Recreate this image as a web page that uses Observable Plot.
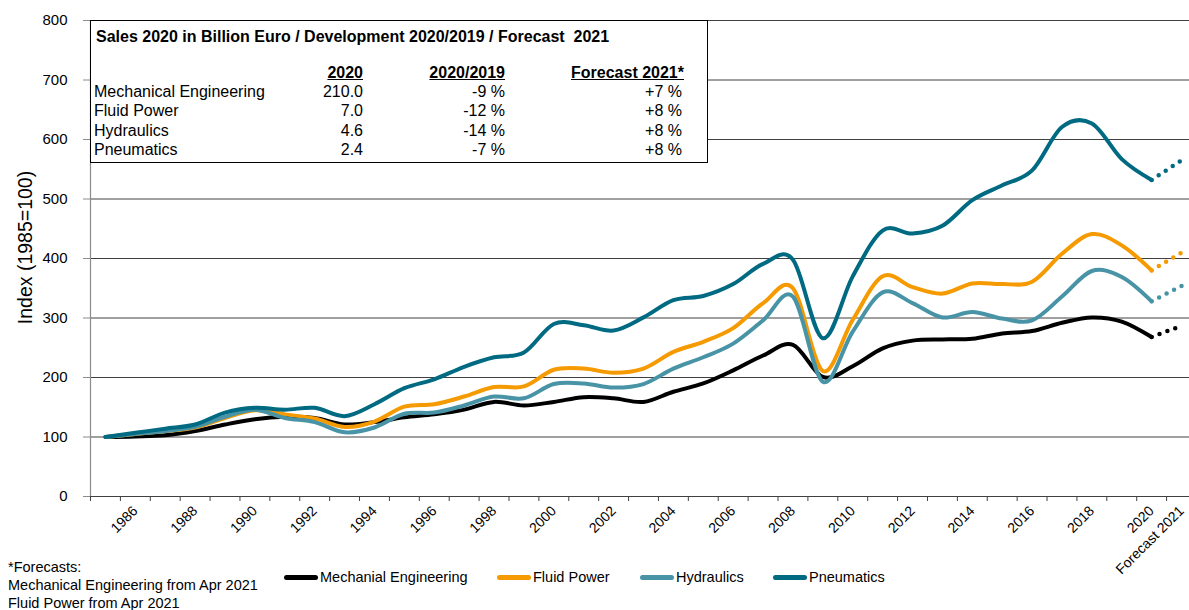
<!DOCTYPE html>
<html>
<head>
<meta charset="utf-8">
<script src="https://cdn.jsdelivr.net/npm/d3@7"></script>
<script src="https://cdn.jsdelivr.net/npm/@observablehq/plot@0.6"></script>
<style>
  body { margin: 0; background: #fff; font-family: "Liberation Sans", Arial, sans-serif; color: #000; }
  #wrap { position: relative; width: 1189px; height: 610px; overflow: hidden; }
  #box { position: absolute; left: 90px; top: 20px; width: 618px; height: 143px; background: #fff; border: 1px solid #000; box-sizing: border-box; }
  #box div { position: absolute; white-space: nowrap; line-height: 18px; }
  .title { font-weight: bold; font-size: 16px; }
  .hdr { font-weight: bold; font-size: 16px; text-decoration: underline; }
  .cell { font-size: 16px; }
  .leg { position: absolute; top: 568px; font-size: 14.5px; line-height: 18px; white-space: nowrap; }
  .sw { position: absolute; top: 7px; height: 5px; border-radius: 3px; }
  #foot { position: absolute; left: 8px; top: 558px; font-size: 14.5px; line-height: 18px; }
</style>
</head>
<body>
<div id="wrap"></div>
<script>
// ---------------- data ----------------
const years = [1985,1986,1987,1988,1989,1990,1991,1992,1993,1994,1995,1996,1997,1998,1999,2000,2001,2002,2003,2004,2005,2006,2007,2008,2009,2010,2011,2012,2013,2014,2015,2016,2017,2018,2019,2020];
const mechanical = [100,101,103,110,121,130,134,132,121,125,133,138,146,159,153,159,167,165,159,176,190,212,237,255,201,219,249,262,264,265,274,278,292,301,294,268];
const fluidPower = [100,105,110,116,132,145,138,131,117,126,151,155,168,184,185,213,215,208,215,243,260,283,325,350,211,297,370,352,341,358,357,361,408,441,422,380];
const hydraulics = [100,105,110,117,134,146,132,125,108,116,139,141,153,168,165,189,190,183,189,215,234,257,296,336,193,277,343,325,301,310,299,296,336,379,369,328];
const pneumatics = [100,107,114,121,141,149,146,149,135,155,182,197,218,234,242,290,288,279,301,330,337,357,391,398,266,370,447,442,455,498,523,548,621,627,567,532];
const forecastYear = 2021;
const forecast2021 = { mech: 287, fluid: 410, hyd: 354, pneu: 565 };

const seriesNames = ["Mechanial Engineering", "Fluid Power", "Hydraulics", "Pneumatics"];
const seriesColors = ["#000000", "#f59a00", "#4894a6", "#006a82"];

const yTicks = [0,100,200,300,400,500,600,700,800];
const xLabelYears = [1986,1988,1990,1992,1994,1996,1998,2000,2002,2004,2006,2008,2010,2012,2014,2016,2018,2020,2021];
const xTickLabel = { 2021: "Forecast 2021" };

const tableTitle = "Sales 2020 in Billion Euro / Development 2020/2019 / Forecast\u00a0 2021";
const tableHeaders = ["2020", "2020/2019", "Forecast 2021*"];
const tableRows = ["Mechanical Engineering", "Fluid Power", "Hydraulics", "Pneumatics"];
const sales2020 = ["210.0", "7.0", "4.6", "2.4"];
const change2019 = ["-9 %", "-12 %", "-14 %", "-7 %"];
const forecastPct = ["+7 %", "+8 %", "+8 %", "+8 %"];

const footLines = ["*Forecasts:", "Mechanical Engineering from Apr 2021", "Fluid Power from Apr 2021"];

// ---------------- build ----------------
const seriesValues = [mechanical, fluidPower, hydraulics, pneumatics];
const fcValues = [forecast2021.mech, forecast2021.fluid, forecast2021.hyd, forecast2021.pneu];
const boundaries = d3.range(years.length + 2).map(i => years[0] - 0.5 + i);

const lineMarks = [];
seriesValues.forEach((vals, i) => {
  const data = years.map((y, j) => ({ year: y, value: vals[j] }));
  lineMarks.push(Plot.line(data, { x: "year", y: "value", stroke: seriesColors[i], strokeWidth: 4, curve: "cardinal", strokeLinecap: "round", strokeLinejoin: "round" }));
  const fc = [{ year: years[years.length - 1], value: vals[vals.length - 1] }, { year: forecastYear, value: fcValues[i] }];
  lineMarks.push(Plot.line(fc, { x: "year", y: "value", stroke: seriesColors[i], strokeWidth: 4.5, strokeDasharray: "0 8.4", strokeLinecap: "round" }));
});

const chart = Plot.plot({
  width: 1189,
  height: 610,
  marginLeft: 90,
  marginRight: 0,
  marginTop: 20,
  marginBottom: 114,
  x: { domain: [years[0] - 0.5, forecastYear + 0.5], range: [90, 1196] },
  y: { domain: [0, 800] },
  style: { fontFamily: "'Liberation Sans', Arial, sans-serif", background: "white", color: "#000", overflow: "visible" },
  marks: [
    Plot.ruleY(yTicks, { stroke: "#404040", strokeWidth: 1 }),
    Plot.ruleX([years[0] - 0.5], { stroke: "#8c8c8c", strokeWidth: 1.2 }),
    Plot.axisY({ ticks: yTicks, tickSize: 7, tickPadding: 16, fontSize: 15, label: null, stroke: "#8c8c8c" }),
    Plot.axisX({ ticks: boundaries, tickSize: 5, tickFormat: () => "", label: null, stroke: "#404040" }),
    Plot.axisX({ ticks: xLabelYears, tickSize: 0, tickPadding: 12, tickRotate: -45, textAnchor: "end", fontSize: 14,
                 tickFormat: d => xTickLabel[d] || String(d), label: null }),
    Plot.text(["Index (1985=100)"], { frameAnchor: "left", textAnchor: "middle", rotate: -90, dx: -65, dy: -11, fontSize: 19.5 }),
    ...lineMarks
  ]
});

const wrap = document.getElementById("wrap");
wrap.appendChild(chart);

// table box
const box = document.createElement("div");
box.id = "box";
wrap.appendChild(box);
function add(parent, cls, text, css) {
  const d = document.createElement("div");
  d.className = cls; d.textContent = text;
  Object.assign(d.style, css);
  parent.appendChild(d);
  return d;
}
add(box, "title", tableTitle, { left: "5px", top: "7px" });
const colRights = [344, 202, 23];   // distance from right edge of box
tableHeaders.forEach((h, i) => add(box, "hdr", h, { right: colRights[i] + "px", top: "43px" }));
const rowTops = [62, 81, 101, 120];
tableRows.forEach((r, i) => {
  add(box, "cell", r, { left: "3px", top: rowTops[i] + "px" });
  add(box, "cell", sales2020[i], { right: colRights[0] + "px", top: rowTops[i] + "px" });
  add(box, "cell", change2019[i], { right: colRights[1] + "px", top: rowTops[i] + "px" });
  add(box, "cell", forecastPct[i], { right: (colRights[2] + 2) + "px", top: rowTops[i] + "px" });
});

// legend
const legLeft = [284, 497, 640, 773];
seriesNames.forEach((n, i) => {
  const item = document.createElement("div");
  item.className = "leg";
  item.style.left = legLeft[i] + "px";
  const sw = document.createElement("div");
  sw.className = "sw";
  Object.assign(sw.style, { left: "0px", width: "34px", background: seriesColors[i] });
  item.appendChild(sw);
  const t = document.createElement("span");
  t.textContent = n;
  t.style.marginLeft = "36px";
  item.appendChild(t);
  wrap.appendChild(item);
});

// footnote
const foot = document.createElement("div");
foot.id = "foot";
footLines.forEach(l => { const d = document.createElement("div"); d.textContent = l; foot.appendChild(d); });
wrap.appendChild(foot);
</script>
</body>
</html>
